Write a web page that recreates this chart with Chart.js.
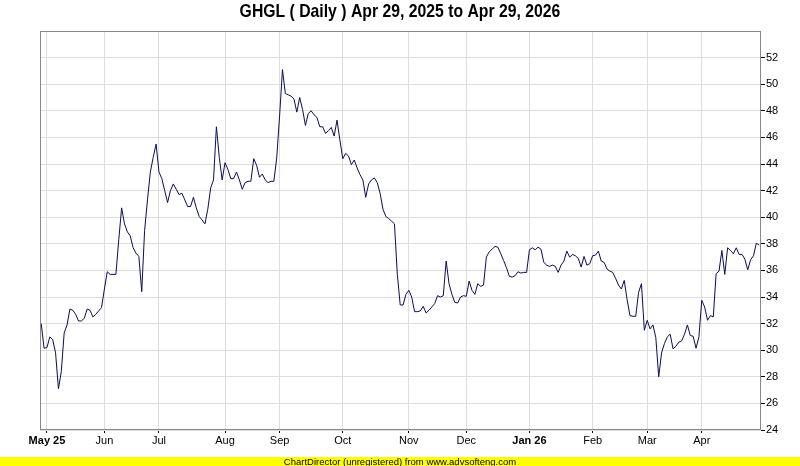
<!DOCTYPE html>
<html>
<head>
<meta charset="utf-8">
<script src="https://cdn.jsdelivr.net/npm/chart.js@4.4.1/dist/chart.umd.min.js"></script>
<style>
  body { margin: 0; background: #fff; }
  canvas { display: block; }
</style>
</head>
<body>
<canvas id="myChart" width="800" height="466"></canvas>
<script>
const titleText = "GHGL ( Daily ) Apr 29, 2025 to Apr 29, 2026";
const footerText = "ChartDirector (unregistered) from www.advsofteng.com";

// daily closes, Apr 29 2025 .. Apr 29 2026 (one per trading day)
const closes = [
    32.0, 30.15, 30.2, 31.0, 30.8, 29.8, 27.1, 28.4, 31.3, 31.9,
    33.1, 33.0, 32.7, 32.2, 32.2, 32.4, 33.1, 33.0, 32.5, 32.7,
    32.95, 33.2, 34.6, 35.9, 35.7, 35.7, 35.7, 38.3, 40.7, 39.5,
    38.9, 38.6, 37.7, 37.3, 37.05, 34.4, 39.0, 41.3, 43.4, 44.5,
    45.5, 43.4, 42.9, 42.0, 41.1, 42.0, 42.5, 42.1, 41.7, 41.8,
    41.3, 40.8, 40.8, 41.5, 40.7, 40.05, 39.8, 39.5, 40.6, 42.2,
    42.8, 46.8, 44.5, 42.8, 44.1, 43.6, 42.9, 42.9, 43.4, 42.8,
    42.1, 42.6, 42.7, 42.7, 44.4, 43.9, 43.0, 43.25, 42.8, 42.6,
    42.7, 42.7, 44.45, 47.6, 51.1, 49.3, 49.2, 49.1, 48.9, 47.9,
    49.0, 48.1, 46.9, 47.8, 48.0, 47.7, 47.5, 46.8, 46.8, 46.3,
    46.5, 46.75, 46.1, 47.3, 45.8, 44.4, 44.8, 44.6, 43.95, 44.3,
    43.7, 43.2, 42.8, 41.5, 42.5, 42.8, 42.95, 42.6, 41.8, 40.6,
    40.05, 39.9, 39.7, 39.5, 35.7, 33.4, 33.4, 34.2, 34.5, 34.0,
    32.9, 32.9, 32.95, 33.3, 32.8, 33.0, 33.25, 33.5, 34.1, 34.0,
    34.1, 36.7, 35.0, 34.2, 33.6, 33.55, 34.0, 34.1, 34.05, 35.2,
    34.5, 34.2, 35.0, 34.8, 34.9, 37.0, 37.4, 37.6, 37.8, 37.75,
    37.25, 36.75, 36.2, 35.55, 35.5, 35.6, 35.9, 35.8, 35.85, 35.85,
    37.55, 37.7, 37.55, 37.75, 37.6, 36.6, 36.4, 36.3, 36.4, 36.3,
    35.85, 36.4, 36.7, 37.45, 37.0, 37.2, 37.1, 36.9, 36.25, 37.05,
    36.4, 36.5, 37.1, 37.15, 37.45, 36.7, 36.6, 36.1, 35.95, 35.85,
    35.4, 34.9, 34.6, 35.25, 33.8, 32.6, 32.55, 32.55, 34.35, 35.0,
    31.5, 32.25, 31.6, 31.9, 30.95, 28.0, 29.8, 30.5, 31.0, 31.2,
    30.1, 30.3, 30.6, 30.7, 31.2, 31.9, 31.1, 31.05, 30.15, 31.0,
    33.75, 33.25, 32.25, 32.6, 32.5, 35.75, 35.95, 37.5, 35.7, 37.7,
    37.5, 37.25, 37.7, 37.2, 37.2, 36.85, 36.05, 36.8, 37.1, 38.05,
    37.9
];

// first trading day of each month (index into closes) and its label
const monthIdx = [2, 22, 41, 64, 83, 105, 128, 148, 170, 192, 211, 230];
const monthLabels = ["May 25", "Jun", "Jul", "Aug", "Sep", "Oct", "Nov", "Dec", "Jan 26", "Feb", "Mar", "Apr"];
const boldLabels = ["May 25", "Jan 26"];

const yMin = 24;
const yMax = 54;
const yStep = 2;

const points = closes.map((v, i) => ({ x: i, y: v }));

const frame = {
    id: "frame",
    beforeDraw(chart) {
        const c = chart.ctx;
        c.save();
        c.fillStyle = "#ffffff";
        c.fillRect(0, 0, chart.width, chart.height);
        // title, squeezed to look like the narrow ChartDirector font
        c.save();
        c.translate(400, 12);
        c.scale(0.83, 1);
        c.fillStyle = "#000000";
        c.font = "bold 19px 'Liberation Sans', Arial, sans-serif";
        c.textAlign = "center";
        c.textBaseline = "middle";
        c.fillText(titleText, 0, 0);
        c.restore();
        // footer band
        c.fillStyle = "#ffff00";
        c.fillRect(0, 457, chart.width, 9);
        c.fillStyle = "#000000";
        c.font = "9.5px 'Liberation Sans', Arial, sans-serif";
        c.textAlign = "center";
        c.textBaseline = "alphabetic";
        c.fillText(footerText, 400, 465);
        c.restore();
    },
    afterDatasetsDraw(chart) {
        const a = chart.chartArea;
        const c = chart.ctx;
        c.save();
        c.strokeStyle = "#888888";
        c.lineWidth = 1;
        c.strokeRect(Math.round(a.left) + 0.5, Math.round(a.top) + 0.5,
            Math.round(a.right - a.left) - 1, Math.round(a.bottom - a.top) - 1);
        c.restore();
    }
};

const ctx = document.getElementById("myChart");

let myChart = new Chart(ctx, {
    type: "line",
    data: {
        datasets: [
            {
                label: "GHGL",
                data: points,
                borderColor: "#0c0c55",
                borderWidth: 1,
                pointRadius: 0,
                tension: 0,
                fill: false,
            },
        ],
    },
    options: {
        responsive: false,
        devicePixelRatio: 1,
        animation: false,
        layout: {
            padding: { top: 31, left: 40, right: 0, bottom: 0 }
        },
        plugins: {
            legend: { display: false },
            title: { display: false },
            tooltip: { enabled: false }
        },
        scales: {
            x: {
                type: "linear",
                min: -0.42,
                max: 250.62,
                afterBuildTicks: (scale) => {
                    scale.ticks = monthIdx.map(v => ({ value: v }));
                },
                afterFit: (scale) => { scale.height = 36; },
                ticks: {
                    autoSkip: false,
                    maxRotation: 0,
                    padding: 1,
                    color: "#000000",
                    font: (c) => ({
                        family: "'Liberation Sans', Arial, sans-serif",
                        size: 11,
                        weight: (c.tick && boldLabels.includes(monthLabels[monthIdx.indexOf(c.tick.value)])) ? "bold" : "normal"
                    }),
                    callback: (v) => monthLabels[monthIdx.indexOf(v)]
                },
                grid: {
                    color: "#dddddd",
                    tickColor: "#000000",
                    tickLength: 3,
                    lineWidth: 1
                },
                border: { display: false }
            },
            y: {
                position: "right",
                min: yMin,
                max: yMax,
                afterFit: (scale) => { scale.width = 39; },
                ticks: {
                    stepSize: yStep,
                    padding: 1,
                    color: "#000000",
                    font: { family: "'Liberation Sans', Arial, sans-serif", size: 11 },
                    callback: (v) => (v === yMax ? null : v)
                },
                grid: {
                    color: "#dddddd",
                    tickColor: "#000000",
                    tickLength: 4,
                    lineWidth: 1
                },
                border: { display: false }
            }
        }
    },
    plugins: [frame]
});
</script>
</body>
</html>
